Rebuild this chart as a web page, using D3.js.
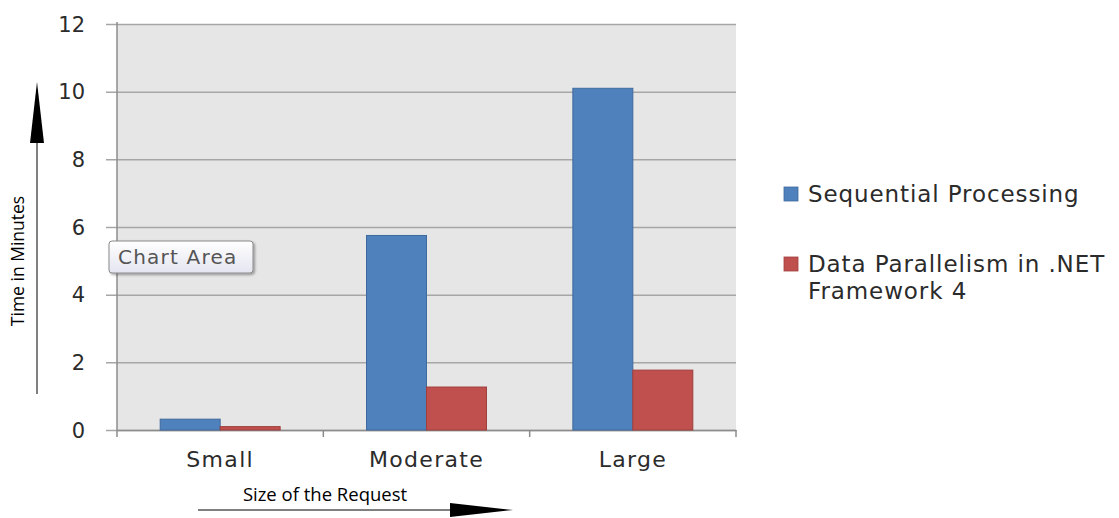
<!DOCTYPE html>
<html>
<head>
<meta charset="utf-8">
<script src="https://cdn.jsdelivr.net/npm/d3@7"></script>
<style>
  html, body { margin: 0; padding: 0; background: #fff; }
  svg { display: block; }
</style>
</head>
<body>
<svg id="chart" width="1119" height="518"></svg>
<script>
// Request sizes and timings (minutes)
const categories = ["Small", "Moderate", "Large"];
const seriesNames = ["Sequential Processing", "Data Parallelism in .NET Framework 4"];
const sequential = [0.32, 5.75, 10.1];
const parallel = [0.1, 1.27, 1.77];
const yTicks = [0, 2, 4, 6, 8, 10, 12];

const colors = ["#4f81bd", "#c0504d"];
const strokes = ["#3f6a9d", "#9e3f3c"];
const labelFont = "'DejaVu Sans', Verdana, sans-serif";
const titleFont = "'Open Sans', 'Liberation Sans', sans-serif";

const svg = d3.select("#chart");
const plot = { left: 117, right: 736, top: 24, bottom: 430 };

const y = d3.scaleLinear().domain([0, 12]).range([plot.bottom, plot.top]);
const x = d3.scaleBand().domain(categories).range([plot.left, plot.right]).paddingInner(0).paddingOuter(0);
const inner = d3.scaleBand().domain([0, 1]).range([0, x.bandwidth()]).paddingOuter(0.72).paddingInner(0);

// plot background
svg.append("rect")
  .attr("x", plot.left).attr("y", plot.top)
  .attr("width", plot.right - plot.left).attr("height", plot.bottom - plot.top)
  .attr("fill", "#e6e6e6");

// horizontal gridlines with left tick stubs
const yAxis = d3.axisLeft(y).tickValues(yTicks).tickSize(plot.right - plot.left + 11).tickFormat("");
const gy = svg.append("g").attr("transform", `translate(${plot.right},0)`).call(yAxis);
gy.select(".domain").remove();
gy.selectAll(".tick line").attr("stroke", "#a6a6a6").attr("stroke-width", 1.5);

// value labels on the vertical axis
svg.append("g").selectAll("text").data(yTicks).join("text")
  .attr("x", 85)
  .attr("y", d => y(d))
  .attr("dy", "0.36em")
  .attr("text-anchor", "end")
  .attr("fill", "#2b2b2b")
  .style("font-family", labelFont)
  .style("font-size", "21px")
  .text(d => d);

// vertical axis line
svg.append("line")
  .attr("x1", plot.left).attr("x2", plot.left)
  .attr("y1", plot.top - 2).attr("y2", plot.bottom + 7)
  .attr("stroke", "#8c8c8c").attr("stroke-width", 1.5);

// horizontal axis with category ticks
const xAxis = d3.axisBottom(x).tickSize(0).tickFormat("");
const gx = svg.append("g").attr("transform", `translate(0,${plot.bottom})`).call(xAxis);
gx.select(".domain").attr("stroke", "#8c8c8c").attr("stroke-width", 1.5);
categories.forEach(c => {
  const bx = x(c) + x.bandwidth();
  svg.append("line")
    .attr("x1", bx).attr("x2", bx)
    .attr("y1", plot.bottom).attr("y2", plot.bottom + 7)
    .attr("stroke", "#8c8c8c").attr("stroke-width", 1.5);
});
svg.append("g").selectAll("text").data(categories).join("text")
  .attr("x", d => x(d) + x.bandwidth() / 2)
  .attr("y", 467)
  .attr("text-anchor", "middle")
  .attr("fill", "#2b2b2b")
  .style("font-family", labelFont)
  .style("font-size", "22px")
  .style("letter-spacing", "1.3px")
  .text(d => d);

// bars
const data = categories.map((c, i) => ({ c, vals: [sequential[i], parallel[i]] }));
const groups = svg.append("g").selectAll("g").data(data).join("g")
  .attr("transform", d => `translate(${x(d.c)},0)`);
groups.selectAll("rect").data(d => d.vals.map((v, k) => ({ v, k }))).join("rect")
  .attr("x", d => inner(d.k))
  .attr("width", inner.bandwidth())
  .attr("y", d => y(d.v))
  .attr("height", d => plot.bottom - y(d.v))
  .attr("fill", d => colors[d.k])
  .attr("stroke", d => strokes[d.k])
  .attr("stroke-width", 1);

// "Chart Area" hover label
const defs = svg.append("defs");
const grad = defs.append("linearGradient").attr("id", "tipbg").attr("x1", 0).attr("x2", 0).attr("y1", 0).attr("y2", 1);
grad.append("stop").attr("offset", "0%").attr("stop-color", "#ffffff");
grad.append("stop").attr("offset", "100%").attr("stop-color", "#e4e5f0");
const shadow = defs.append("filter").attr("id", "tipshadow").attr("x", "-10%").attr("y", "-10%").attr("width", "130%").attr("height", "150%");
shadow.append("feDropShadow").attr("dx", 1.5).attr("dy", 1.5).attr("stdDeviation", 1.2).attr("flood-color", "#000").attr("flood-opacity", 0.35);
svg.append("rect")
  .attr("x", 109).attr("y", 241).attr("width", 144).attr("height", 32).attr("rx", 3)
  .attr("fill", "url(#tipbg)").attr("stroke", "#8a8a8a").attr("stroke-width", 1)
  .attr("filter", "url(#tipshadow)");
svg.append("text")
  .attr("x", 118).attr("y", 264)
  .attr("fill", "#555")
  .style("font-family", labelFont)
  .style("font-size", "20px")
  .style("letter-spacing", "1.2px")
  .text("Chart Area");

// legend
const legend = svg.append("g").attr("transform", "translate(784,0)");
const legendRows = [
  { lines: ["Sequential Processing"], y: 194 },
  { lines: ["Data Parallelism in .NET", "Framework 4"], y: 264 }
];
legendRows.forEach((r, i) => {
  legend.append("rect")
    .attr("x", 0).attr("y", r.y - 7).attr("width", 14).attr("height", 14)
    .attr("fill", colors[i]).attr("stroke", strokes[i]).attr("stroke-width", 0.8);
  const t = legend.append("text")
    .attr("x", 24).attr("y", r.y)
    .attr("fill", "#2b2b2b")
    .style("font-family", labelFont)
    .style("font-size", "23px")
    .style("letter-spacing", "0.9px");
  r.lines.forEach((ln, j) => {
    t.append("tspan").attr("x", 24).attr("dy", j === 0 ? "0.36em" : "1.18em").text(ln);
  });
});

// axis titles with arrows
svg.append("text")
  .attr("transform", "translate(24,261) rotate(-90)")
  .attr("text-anchor", "middle")
  .attr("fill", "#000")
  .style("font-family", titleFont)
  .style("font-size", "17.5px")
  .text("Time in Minutes");
svg.append("line")
  .attr("x1", 37).attr("x2", 37).attr("y1", 394).attr("y2", 140)
  .attr("stroke", "#000").attr("stroke-width", 1);
svg.append("path")
  .attr("d", "M37,82 L44,143 L30,143 Z")
  .attr("fill", "#000");

svg.append("text")
  .attr("x", 325).attr("y", 501)
  .attr("text-anchor", "middle")
  .attr("fill", "#000")
  .style("font-family", titleFont)
  .style("font-size", "18.5px")
  .text("Size of the Request");
svg.append("line")
  .attr("x1", 198).attr("x2", 452).attr("y1", 510).attr("y2", 510)
  .attr("stroke", "#000").attr("stroke-width", 1);
svg.append("path")
  .attr("d", "M513,510 L450,503 L450,517 Z")
  .attr("fill", "#000");
</script>
</body>
</html>
